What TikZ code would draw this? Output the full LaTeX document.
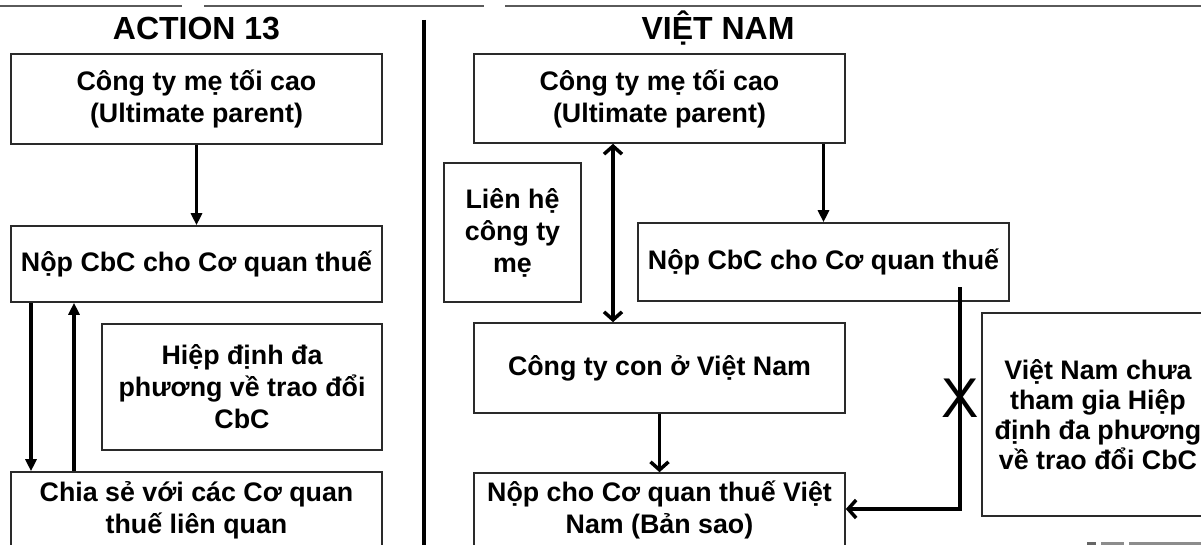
\documentclass[tikz,border=0pt]{standalone}
\usepackage{fontspec}
\setmainfont{Liberation Sans}
\usetikzlibrary{arrows.meta}
\definecolor{edge}{HTML}{2A2A2A}
\definecolor{rule}{HTML}{5A5A5A}
\begin{document}
\begin{tikzpicture}[x=1pt,y=-1pt,
  box/.style={draw=edge, line width=1.6pt, align=center, inner sep=0pt,
    font=\fontsize{26.8}{32}\selectfont\bfseries},
  heading/.style={anchor=base, font=\fontsize{32}{38}\selectfont\bfseries},
  link/.style={line width=3.5pt, draw=black},
  solidtip/.style={-{Triangle[length=12pt,width=11pt]}},
  barb/.style={-{Straight Barb[length=8pt,width=18pt]}},
  barbs/.style={{Straight Barb[length=8pt,width=18pt]}-{Straight Barb[length=8pt,width=18pt]}},
  rulebar/.style={line width=2pt, draw=rule}
]
\useasboundingbox (0,0) rectangle (1201,545);
\begin{scope}
\clip (0,0) rectangle (1201,545);

% thin rules along the top edge
\draw[rulebar] (0,6) -- (182,6);
\draw[rulebar] (204,6) -- (484,6);
\draw[rulebar] (505,6) -- (1201,6);

% column headings and divider
\node[heading] (hl) at (196.5,40) {ACTION 13};
\node[heading] (hr) at (718,40) {VIỆT NAM};
\draw[line width=3.5pt] (424,20) -- (424,545);

% ---- left column: Action 13 ----
\node[box, minimum width=371pt, minimum height=90pt] (lparent) at (196.5,99)
  {Công ty mẹ tối cao\\(Ultimate parent)};
\node[box, minimum width=371pt, minimum height=76pt] (lfile) at (196.5,264)
  {Nộp CbC cho Cơ quan thuế};
\node[box, minimum width=280pt, minimum height=126pt] (lmcaa) at (242,387)
  {Hiệp định đa\\phương về trao đổi\\CbC};
\node[box, minimum width=371pt, minimum height=76pt] (lshare) at (196.5,510)
  {Chia sẻ với các Cơ quan\\thuế liên quan};

\coordinate (ldown) at (31,0);
\coordinate (lup) at (74,0);
\draw[link, solidtip] (lparent.south) -- (lfile.north);
\draw[link, solidtip] (lfile.south -| ldown) -- (lshare.north -| ldown);
\draw[link, solidtip] (lshare.north -| lup) -- (lfile.south -| lup);

% ---- right column: Viet Nam ----
\node[box, minimum width=371pt, minimum height=89pt] (rparent) at (659.5,98.5)
  {Công ty mẹ tối cao\\(Ultimate parent)};
\node[box, minimum width=137pt, minimum height=139pt] (rcontact) at (512.5,232.5)
  {Liên hệ\\công ty\\mẹ};
\node[box, minimum width=371pt, minimum height=78pt] (rfile) at (823.5,262)
  {Nộp CbC cho Cơ quan thuế};
\node[box, minimum width=371pt, minimum height=90pt] (rsub) at (659.5,368)
  {Công ty con ở Việt Nam};
\node[box, minimum width=371pt, minimum height=74pt] (rcopy) at (659.5,510)
  {Nộp cho Cơ quan thuế Việt\\Nam (Bản sao)};
\node[box, minimum width=232pt, minimum height=203pt,
  font=\fontsize{26.8}{30}\selectfont\bfseries] (rnote) at (1098,414.5)
  {Việt Nam chưa\\tham gia Hiệp\\định đa phương\\về trao đổi CbC};

\coordinate (rlink) at (613,0);
\draw[link, solidtip] (rparent.south -| rfile.north) -- (rfile.north);
\draw[link, barbs] (rparent.south -| rlink) -- (rsub.north -| rlink);
\draw[link, barb] (rsub.south) -- (rcopy.north);

\coordinate (tap) at (960,287);
\coordinate (bend) at (960,509);
\draw[link, barb] (tap) -- (bend) -- (rcopy.east |- bend);
\node[font=\fontsize{56}{56}\selectfont, inner sep=0pt] (cross) at (960,398) {X};

% grey fragments along the bottom edge
\fill[black!60] (1087,542) rectangle (1096,545);
\fill[black!45] (1101,542) rectangle (1124,545);
\fill[black!45] (1129,542) rectangle (1201,545);
\end{scope}
\end{tikzpicture}
\end{document}
